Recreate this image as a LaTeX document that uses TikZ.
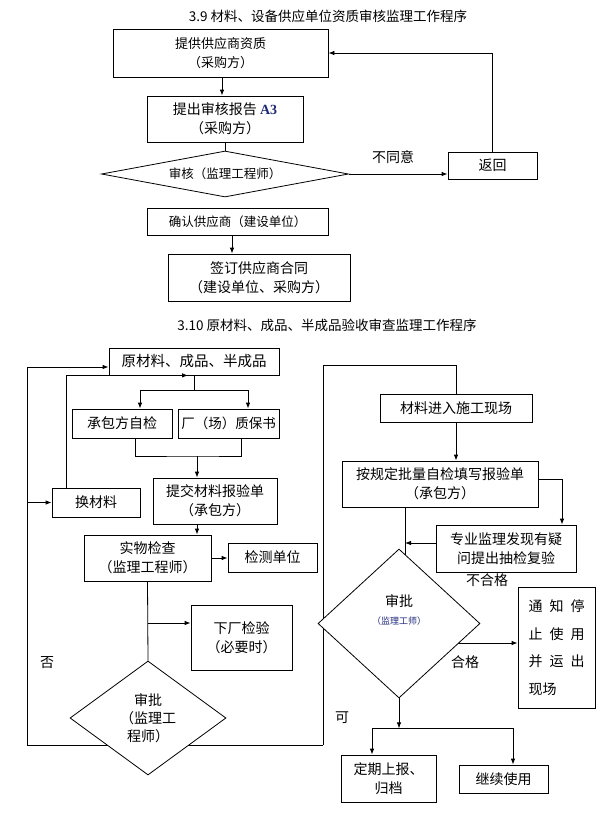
\documentclass[tikz,border=0pt]{standalone}
\usepackage{fontspec}
\setmainfont{Noto Sans CJK SC}
\newfontfamily\serifA{Liberation Serif}
\usetikzlibrary{shapes.geometric,arrows.meta,backgrounds,calc}
\definecolor{a3blue}{RGB}{30,40,120}
\newcommand\myfs[2]{\fontsize{#1}{#2}\selectfont}
\begin{document}
\begin{tikzpicture}[x=1pt,y=-1pt,
  box/.style={draw,fill=white,line width=0.8pt,inner sep=0pt,align=center,font=\myfs{14}{19}},
  dia/.style={draw,fill=white,diamond,line width=0.8pt,inner sep=0pt,align=center,font=\myfs{14}{18}},
  arr/.style={-{Latex[length=6pt,width=4.5pt]},line width=0.8pt},
  ln/.style={line width=0.8pt},
  lbl/.style={inner sep=0pt,font=\myfs{14}{16}},
  ttl/.style={inner sep=0pt,font=\myfs{13.5}{16}}]
\useasboundingbox (0,0) rectangle (606,828);
% ---------- 3.9 ----------
\node[ttl] (t1) at (328,16) {3.9 材料、设备供应单位资质审核监理工作程序};
\node[box,minimum width=215,minimum height=48,font=\myfs{13}{19}] (b1) at (220.5,53) {提供供应商资质\\（采购方）};
\node[box,minimum width=156,minimum height=46] (b2) at (225,119) {提出审核报告 {\serifA\bfseries\color{a3blue}A3}\\（采购方）};
\node[dia,minimum width=247,minimum height=46,aspect=5.4,font=\myfs{12.5}{15}] (d1) at (225,174) {审核（监理工程师）};
\node[box,minimum width=89,minimum height=27] (back) at (492.5,165.5) {返回};
\node[box,minimum width=181,minimum height=27,font=\myfs{12.5}{15}] (b4) at (237.5,221.5) {确认供应商（建设单位）};
\node[box,minimum width=182,minimum height=47] (b5) at (259,277.5) {签订供应商合同\\（建设单位、采购方）};
\node[lbl] (nd) at (393,157) {不同意};
\draw[arr] ([xshift=1.5]b1.south) -- ([xshift=1.5]b1.south |- b2.north);
\draw[ln] (b2.south) -- (d1.north);
\draw[arr] (d1.east) -- (d1.east -| back.west);
\draw[arr] (back.north) |- (b1.east);
\draw[arr] ([xshift=-5.5]b4.south) -- ([xshift=-5.5]b4.south |- b5.north);
% ---------- 3.10 ----------
\node[ttl] (t2) at (327,325) {3.10 原材料、成品、半成品验收审查监理工作程序};
\node[box,minimum width=170,minimum height=27,font=\myfs{14.5}{18}] (raw) at (194,361.5) {原材料、成品、半成品};
\node[box,minimum width=100,minimum height=29] (self) at (122,423.5) {承包方自检};
\node[box,minimum width=101,minimum height=29,font=\myfs{13.5}{18}] (cert) at (228.5,423.5) {厂（场）质保书};
\node[box,minimum width=124,minimum height=46] (submit) at (215,501) {提交材料报验单\\（承包方）};
\node[box,minimum width=88,minimum height=29] (swap) at (96,502.5) {换材料};
\node[box,minimum width=127,minimum height=46] (inspect) at (147.5,558) {实物检查\\（监理工程师）};
\node[box,minimum width=89,minimum height=29] (lab) at (272.5,557.5) {检测单位};
\node[box,minimum width=101,minimum height=65] (factory) at (241.5,637.5) {下厂检验\\（必要时）};
\node[dia,minimum width=156,minimum height=114,aspect=1.37] (d2) at (148,718) {审批\\（监理工\\程师）};
\node[box,minimum width=152,minimum height=28] (inlet) at (456,408) {材料进入施工现场};
\node[box,minimum width=196,minimum height=46] (selfcheck) at (440,484) {按规定批量自检填写报验单\\（承包方）};
\node[lbl] (ng) at (487,580) {不合格};
\node[box,minimum width=140,minimum height=47] (spot) at (506,548.5) {专业监理发现有疑\\问提出抽检复验};
\node[dia,minimum width=162,minimum height=149,aspect=1.09] (d3) at (399,623.5) {审批\\{\color{a3blue}\myfs{9}{12}（监理工师）}\\[10pt]\mbox{}};
\node[box,minimum width=77,minimum height=121,align=left,font=\myfs{14}{27.5}] (notify) at (556.5,647.5) {通\hspace{7pt}知\hspace{7pt}停\\止\hspace{7pt}使\hspace{7pt}用\\并\hspace{7pt}运\hspace{7pt}出\\现场};
\node[box,minimum width=95,minimum height=47] (archive) at (388.5,778.5) {定期上报、\\归档};
\node[box,minimum width=89,minimum height=28] (cont) at (503.5,779) {继续使用};
\node[lbl] (no) at (47,663) {否};
\node[lbl] (ok) at (342,718) {可};
\node[lbl] (pass) at (465,662) {合格};
% connectors
\coordinate (J) at (194,390);
\draw[ln] (raw.south) -- (J);
\draw[arr] (J) -| ([xshift=18]self.north);
\draw[arr] (J) -| ([xshift=19.5]cert.north);
\draw[arr] ([xshift=-30]swap.north) |- ([xshift=-6]raw.south);
\coordinate (K) at (197,456);
\draw[ln] ([xshift=13]self.south) |- (K) -| ([xshift=12.5]cert.south);
\draw[arr] (K) -- (K |- submit.north);
\draw[arr] (K |- submit.south) -- (K |- inspect.north);
\draw[arr] (inspect.east) -- (inspect.east -| lab.west);
\draw[ln] (inspect.south) -- (d2.north);
\coordinate (fw) at ([yshift=14.5]factory.west);
\draw[arr] (inspect.south |- fw) -- (fw);
\coordinate (L) at (27,745);
\coordinate (R) at (323,745);
\draw[arr] (L |- swap.west) -- (swap.west);
\draw[arr] (inlet.south) -- (inlet.south |- selfcheck.north);
\draw[arr] ([yshift=5]selfcheck.east) -| ([xshift=56]spot.north);
\coordinate (C) at ([xshift=-35]selfcheck.south);
\coordinate (sw) at ([yshift=5.5]spot.west);
\draw[arr] (sw) -- (sw -| C);
\coordinate (nw) at ([yshift=4.5]notify.west);
\coordinate (J2) at ([yshift=-30]d3.south);
\draw[arr] (d3.south) -- (J2);
\draw[arr] (J2) -| ([xshift=-16.5]archive.north);
\draw[arr] (J2) -| ([xshift=9.5]cont.north);
\begin{pgfonlayer}{background}
\draw[arr] (R) -- (L) |- ([yshift=-5.5]raw.west);
\draw[ln] (R) -- ++(0,-380) -| (inlet.north);
\draw[ln] (C) -- ++(0,55);
\draw[arr] (d3.center |- nw) -- (nw);
\end{pgfonlayer}
\end{tikzpicture}
\end{document}
